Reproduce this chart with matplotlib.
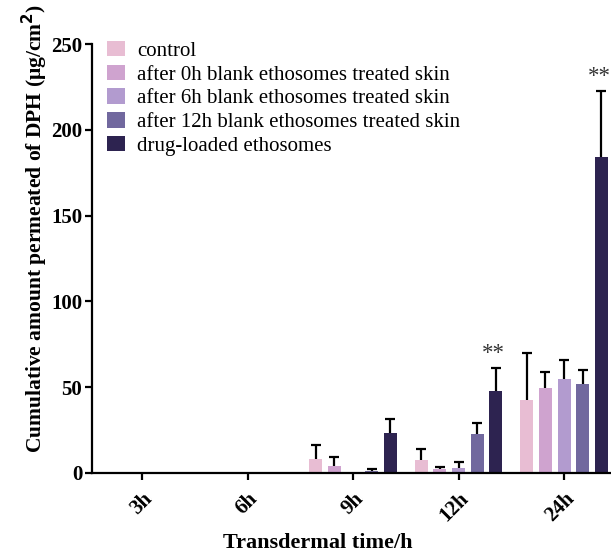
import numpy as np
import matplotlib
matplotlib.use("Agg")
import matplotlib.pyplot as plt

plt.rcParams['font.family'] = ['Liberation Serif', 'DejaVu Serif']

time_points = ["3h", "6h", "9h", "12h", "24h"]
series_names = ["control",
                "after 0h blank ethosomes treated skin",
                "after 6h blank ethosomes treated skin",
                "after 12h blank ethosomes treated skin",
                "drug-loaded ethosomes"]
colors = ["#E8BDD3", "#CFA3CF", "#B29BCF", "#71689E", "#2D2350"]

control = [0, 0, 8.0, 7.6, 42.5]
control_err = [0, 0, 8.5, 6.2, 27.5]
blank0h = [0, 0, 4.1, 2.3, 49.4]
blank0h_err = [0, 0, 5.0, 1.0, 9.2]
blank6h = [0, 0, 0, 2.9, 55.0]
blank6h_err = [0, 0, 0, 3.5, 11.0]
blank12h = [0, 0, 1.0, 23.0, 51.7]
blank12h_err = [0, 0, 1.2, 6.0, 8.2]
drug = [0, 0, 23.5, 47.8, 184.0]
drug_err = [0, 0, 7.8, 13.4, 38.8]

signif_groups = [3, 4]
signif_labels = ["**", "**"]

values = [control, blank0h, blank6h, blank12h, drug]
errors = [control_err, blank0h_err, blank6h_err, blank12h_err, drug_err]

fig = plt.figure(figsize=(6.11, 5.55), dpi=100)
ax = fig.add_axes([92/611, 82/555, 1 - 92/611, (473-44)/555])

x = np.arange(len(time_points))
width = 0.123
step = 0.177
for i, (vals, errs) in enumerate(zip(values, errors)):
    pos = x + (i - 2) * step
    ax.bar(pos, vals, width=width, color=colors[i], label=series_names[i], zorder=2)
    for p, v, e in zip(pos, vals, errs):
        if e > 0:
            _, caps, _ = ax.errorbar([p], [v], yerr=[[0], [e]], fmt='none',
                                     ecolor='black', elinewidth=1.6, capsize=3.3,
                                     capthick=1.6, zorder=3)
            caps[0].set_visible(False)

for g, lab in zip(signif_groups, signif_labels):
    p = x[g] + 2 * step
    top = drug[g] + drug_err[g]
    ax.text(p - 0.02, top + 8.5, lab, ha='center', va='center', fontsize=16.5,
            color='#333333')

ax.set_xlim(-0.474, 4.445)
ax.set_ylim(0, 250)
ax.set_yticks([0, 50, 100, 150, 200, 250])
ax.set_xticks(x)
ax.set_xticklabels(time_points, rotation=45, ha='right', va='top',
                   rotation_mode='anchor', fontweight='bold', fontsize=15)
for lab in ax.get_yticklabels():
    lab.set_fontweight('bold')
    lab.set_fontsize(15)

for s in ['top', 'right']:
    ax.spines[s].set_visible(False)
for s in ['left', 'bottom']:
    ax.spines[s].set_linewidth(1.6)
ax.tick_params(axis='both', width=1.6, length=5, direction='out', pad=2)
ax.tick_params(axis='x', pad=6)

fig.text(35/611, 1 - 228/555, "Cumulative amount permeated of DPH (μg/cm$^\\mathbf{2}$)",
         rotation=90, ha='center', va='center', fontsize=15.5, fontweight='bold')
fig.text(318/611, 2/555, "Transdermal time/h", ha='center', va='bottom',
         fontsize=16, fontweight='bold')

leg = ax.legend(loc='upper left', bbox_to_anchor=(107/611, 1 - 41/555),
                bbox_transform=fig.transFigure, frameon=False, fontsize=15,
                handlelength=0.88, handleheight=0.75, handletextpad=0.55,
                labelspacing=0.185, borderpad=0, borderaxespad=0)

fig.savefig("out.png", dpi=100)
